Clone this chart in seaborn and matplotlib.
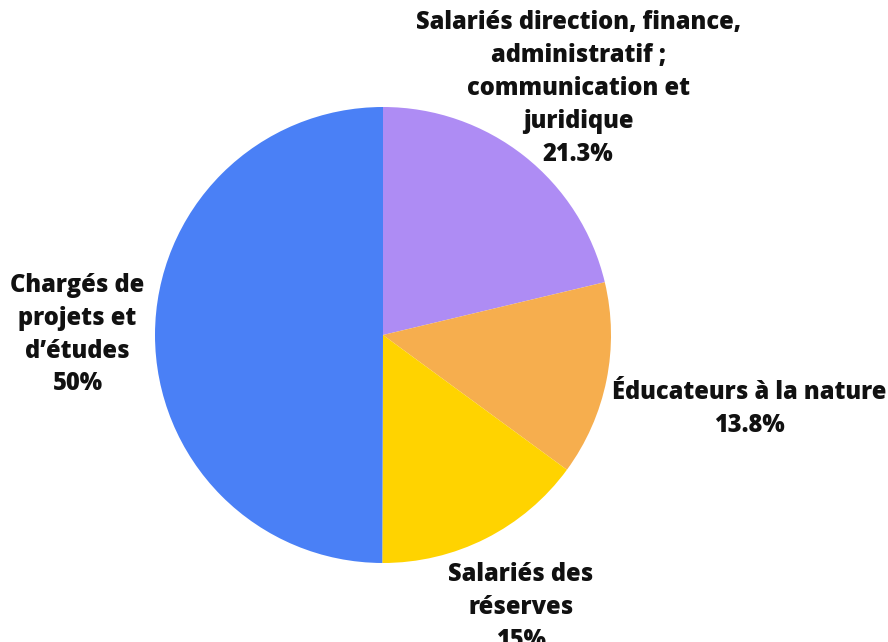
import matplotlib

matplotlib.use("Agg")

import matplotlib.pyplot as plt
import numpy as np
import seaborn as sns

CATEGORIES = [
    "Salariés direction, finance,\nadministratif ;\ncommunication et\njuridique",
    "Éducateurs à la nature",
    "Salariés des\nréserves",
    "Chargés de\nprojets et\nd’études",
]
SHARES = [21.3, 13.8, 15.0, 50.0]
SHARE_LABELS = ["21.3%", "13.8%", "15%", "50%"]
COLORS = ["#AE8CF4", "#F6AE4E", "#FFD300", "#4A80F6"]
LABEL_DIST = [1.38, 1.64, 1.34, 1.34]

sns.set_theme(style="white")
plt.rcParams["font.family"] = ["Open Sans", "DejaVu Sans"]

fig = plt.figure(figsize=(8.88, 6.42), dpi=100)
ax = fig.add_axes([0, 0, 1, 1])
wedges, _ = ax.pie(
    SHARES,
    colors=sns.color_palette(COLORS),
    startangle=90,
    counterclock=False,
    radius=1.0,
    wedgeprops=dict(linewidth=0),
)
for wedge, cat, pct, dist in zip(wedges, CATEGORIES, SHARE_LABELS, LABEL_DIST):
    mid = np.deg2rad((wedge.theta1 + wedge.theta2) / 2)
    ax.text(
        dist * np.cos(mid),
        dist * np.sin(mid),
        f"{cat}\n{pct}",
        ha="center",
        va="center",
        fontsize=17,
        fontweight="heavy",
        linespacing=1.42,
        color="#111111",
    )

ax.set_aspect("equal")
ax.set_xlim(-383 / 228, 505 / 228)
ax.set_ylim(-307 / 228, 335 / 228)
ax.axis("off")
fig.savefig("out.png", dpi=100)
